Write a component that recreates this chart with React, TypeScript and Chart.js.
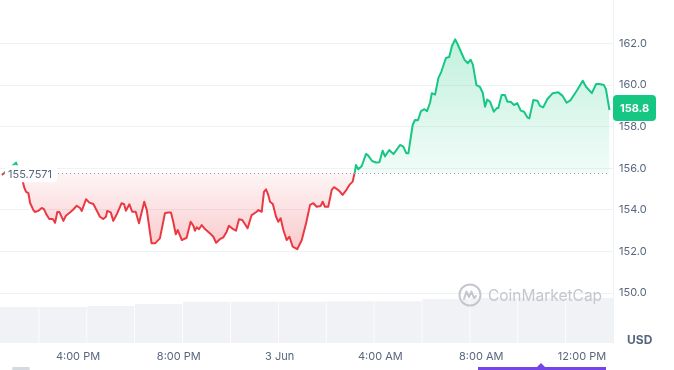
import React, { useEffect, useRef } from 'react';
import { Chart, registerables } from 'chart.js';

Chart.register(...registerables);

// Time in hours since 2 Jun 00:00 (24 = 3 Jun 00:00)
const hours = [
  12.98, 13.54, 13.78, 13.86, 13.94, 14.03, 14.10, 14.23, 14.29, 14.42,
  14.56, 14.65, 14.76, 14.86, 15.00, 15.09, 15.18, 15.26, 15.42, 15.52,
  15.68, 15.79, 15.95, 16.08, 16.15, 16.32, 16.45, 16.61, 16.87, 17.00,
  17.11, 17.16, 17.30, 17.40, 17.56, 17.73, 17.83, 17.90, 18.04, 18.15,
  18.29, 18.42, 18.63, 18.73, 18.92, 19.06, 19.25, 19.45, 19.56, 19.69,
  19.78, 19.88, 19.96, 20.12, 20.31, 20.47, 20.58, 20.64, 20.71, 20.80,
  20.91, 21.04, 21.24, 21.37, 21.48, 21.63, 21.77, 21.90, 21.99, 22.16,
  22.27, 22.39, 22.52, 22.73, 22.89, 23.09, 23.16, 23.29, 23.38, 23.46,
  23.55, 23.62, 23.73, 23.86, 23.95, 24.04, 24.15, 24.28, 24.39, 24.52,
  24.70, 24.88, 25.05, 25.21, 25.34, 25.47, 25.63, 25.71, 25.80, 25.93,
  26.07, 26.16, 26.29, 26.40, 26.50, 26.63, 26.77, 26.90, 26.99, 27.03,
  27.12, 27.26, 27.43, 27.51, 27.67, 27.83, 27.96, 28.09, 28.18, 28.35,
  28.52, 28.78, 28.91, 29.03, 29.11, 29.28, 29.37, 29.49, 29.61, 29.75,
  29.85, 29.97, 30.04, 30.17, 30.30, 30.42, 30.60, 30.73, 30.84, 30.97,
  31.07, 31.20, 31.34, 31.47, 31.58, 31.67, 31.81, 31.95, 32.06, 32.15,
  32.24, 32.35, 32.50, 32.63, 32.68, 32.81, 32.94, 33.04, 33.17, 33.30,
  33.43, 33.57, 33.70, 33.83, 33.91, 34.07, 34.23, 34.33, 34.46, 34.62,
  34.84, 35.06, 35.23, 35.39, 35.55, 35.81, 36.03, 36.16, 36.39, 36.56,
  36.69, 36.87, 36.95, 37.09,
];

const prices = [
  155.68, 156.27, 155.53, 155.10, 154.87, 154.81, 154.33, 153.99, 153.90, 153.95,
  154.09, 154.04, 153.75, 153.56, 153.56, 153.38, 153.90, 153.90, 153.47, 153.72,
  153.87, 153.99, 154.20, 154.09, 153.95, 154.51, 154.35, 154.28, 153.67, 153.56,
  153.67, 153.95, 153.88, 153.47, 153.84, 154.32, 154.27, 153.96, 154.27, 153.91,
  153.91, 153.36, 154.39, 153.99, 152.39, 152.39, 152.63, 153.84, 153.87, 153.87,
  153.43, 152.83, 153.03, 152.55, 152.66, 153.43, 153.23, 153.00, 153.16, 153.07,
  153.27, 153.08, 152.87, 152.71, 152.42, 152.59, 152.68, 152.95, 153.24, 153.07,
  153.00, 153.55, 153.51, 153.12, 153.75, 153.91, 153.99, 153.91, 154.87, 154.99,
  154.72, 154.39, 154.28, 153.67, 153.43, 153.60, 153.03, 152.55, 152.71, 152.23,
  152.11, 152.55, 153.36, 154.24, 154.32, 154.15, 154.19, 154.39, 154.15, 154.15,
  154.96, 155.09, 154.99, 154.87, 154.72, 154.92, 155.20, 155.36, 155.84, 156.16,
  155.95, 156.11, 156.69, 156.62, 156.35, 156.28, 156.29, 156.85, 156.57, 156.88,
  156.68, 157.12, 157.04, 156.72, 156.72, 158.08, 158.32, 158.31, 158.75, 158.84,
  158.75, 159.15, 159.61, 159.54, 160.33, 160.65, 161.30, 161.35, 161.88, 162.20,
  161.95, 161.59, 161.21, 161.05, 161.22, 160.98, 160.00, 159.91, 159.63, 158.96,
  159.30, 159.20, 158.72, 158.90, 158.90, 159.52, 159.52, 159.20, 159.20, 159.04,
  159.13, 158.77, 158.72, 158.45, 158.40, 159.28, 159.25, 159.00, 158.93, 159.32,
  159.61, 159.65, 159.48, 159.15, 159.28, 159.76, 160.21, 159.92, 159.61, 160.05,
  160.05, 160.00, 159.80, 158.80,
];

const volumeHours = [
  13.5, 15.4, 17.3, 19.2, 21.1, 23.0, 24.9, 26.8, 28.7, 30.6, 32.5, 34.4, 36.3,
];
const volumes = [
  10.5, 10.5, 10.8, 11.4, 12.0, 12.0, 12.0, 12.2, 12.2, 12.8, 13.1, 13.1, 13.1,
];

const BASE_PRICE = 155.7571;
const LAST_PRICE = 158.8;
const yTicks = [150, 152, 154, 156, 158, 160, 162];
const xTickHours = [16, 20, 24, 28, 32, 36];
const xTickLabels = ['4:00 PM', '8:00 PM', '3 Jun', '4:00 AM', '8:00 AM', '12:00 PM'];

const GREEN = '#16c784';
const RED = '#ea3943';
const LABEL = '#58667e';
const GRID = '#eff2f5';
const FONT = "Inter, 'Noto Sans', sans-serif";

function lineGradient(chart: any) {
  const { ctx, chartArea, scales } = chart;
  if (!chartArea || !scales.y) return GREEN;
  const yb = scales.y.getPixelForValue(BASE_PRICE);
  const t = Math.max(0, Math.min(1, (yb - chartArea.top) / (chartArea.bottom - chartArea.top)));
  const g = ctx.createLinearGradient(0, chartArea.top, 0, chartArea.bottom);
  g.addColorStop(0, GREEN);
  g.addColorStop(t, GREEN);
  g.addColorStop(t, RED);
  g.addColorStop(1, RED);
  return g;
}

function fillGradient(chart: any) {
  const { ctx, chartArea, scales } = chart;
  if (!chartArea || !scales.y) return 'rgba(22,199,132,0.15)';
  const yb = scales.y.getPixelForValue(BASE_PRICE);
  const h = chartArea.bottom - chartArea.top;
  const t = Math.max(0, Math.min(1, (yb - chartArea.top) / h));
  const g = ctx.createLinearGradient(0, chartArea.top, 0, chartArea.bottom);
  g.addColorStop(0, 'rgba(22,199,132,0.32)');
  g.addColorStop(t, 'rgba(22,199,132,0.06)');
  g.addColorStop(t, 'rgba(234,57,67,0.05)');
  g.addColorStop(Math.min(1, t + 80 / h), 'rgba(234,57,67,0.28)');
  g.addColorStop(1, 'rgba(234,57,67,0.3)');
  return g;
}

function roundRect(ctx: CanvasRenderingContext2D, x: number, y: number, w: number, h: number, r: number) {
  ctx.beginPath();
  ctx.moveTo(x + r, y);
  ctx.lineTo(x + w - r, y);
  ctx.quadraticCurveTo(x + w, y, x + w, y + r);
  ctx.lineTo(x + w, y + h - r);
  ctx.quadraticCurveTo(x + w, y + h, x + w - r, y + h);
  ctx.lineTo(x + r, y + h);
  ctx.quadraticCurveTo(x, y + h, x, y + h - r);
  ctx.lineTo(x, y + r);
  ctx.quadraticCurveTo(x, y, x + r, y);
  ctx.closePath();
}

const overlayPlugin = {
  id: 'overlay',
  afterDatasetsDraw(chart: any) {
    const { ctx, chartArea, scales } = chart;
    const yb = scales.y.getPixelForValue(BASE_PRICE);
    const xEnd = scales.x.getPixelForValue(hours[hours.length - 1]);
    ctx.save();
    ctx.strokeStyle = '#9aa3b5';
    ctx.lineWidth = 1;
    ctx.setLineDash([1, 3]);
    ctx.beginPath();
    ctx.moveTo(chartArea.left + 6, Math.round(yb) + 0.5);
    ctx.lineTo(xEnd, Math.round(yb) + 0.5);
    ctx.stroke();
    ctx.setLineDash([]);
    // base price label
    const text = String(BASE_PRICE);
    ctx.font = `11px ${FONT}`;
    const tw = ctx.measureText(text).width;
    const bx = chartArea.left + 5;
    ctx.fillStyle = '#ffffff';
    roundRect(ctx, bx, yb - 8, tw + 8, 17, 3);
    ctx.fill();
    ctx.fillStyle = LABEL;
    ctx.textBaseline = 'middle';
    ctx.textAlign = 'left';
    ctx.fillText(text, bx + 3, yb + 1.5);
    ctx.restore();
  },
  afterDraw(chart: any) {
    const { ctx, chartArea, scales } = chart;
    const yp = scales.y.getPixelForValue(LAST_PRICE) - 2;
    ctx.save();
    ctx.fillStyle = GREEN;
    roundRect(ctx, chartArea.right, yp - 13, 43, 26, 4);
    ctx.fill();
    ctx.fillStyle = '#ffffff';
    ctx.font = `bold 11px ${FONT}`;
    ctx.textAlign = 'center';
    ctx.textBaseline = 'middle';
    ctx.fillText(LAST_PRICE.toFixed(1), chartArea.right + 21.5, yp + 0.5);
    ctx.fillStyle = LABEL;
    ctx.font = `bold 12px ${FONT}`;
    ctx.textAlign = 'left';
    ctx.fillText('USD', chartArea.right + 14, chartArea.bottom - 3);
    ctx.restore();
  },
};

export default function App() {
  const canvasRef = useRef<HTMLCanvasElement | null>(null);

  useEffect(() => {
    const canvas = canvasRef.current;
    if (!canvas) return;
    Chart.defaults.font.family = FONT;
    const chart = new Chart(canvas, {
      type: 'line',
      data: {
        datasets: [
          {
            type: 'line',
            label: 'Price',
            data: hours.map((h, i) => ({ x: h, y: prices[i] })),
            yAxisID: 'y',
            borderColor: (c: any) => lineGradient(c.chart),
            backgroundColor: (c: any) => fillGradient(c.chart),
            fill: { target: { value: BASE_PRICE } },
            borderWidth: 2,
            pointRadius: 0,
            tension: 0,
            borderJoinStyle: 'round',
            order: 1,
          } as any,
          {
            type: 'bar',
            label: 'Volume',
            data: volumeHours.map((h, i) => ({ x: h, y: volumes[i] })),
            yAxisID: 'yv',
            backgroundColor: '#f0f2f5',
            barPercentage: 0.985,
            categoryPercentage: 1,
            order: 2,
          } as any,
        ],
      },
      options: {
        animation: false,
        responsive: false,
        maintainAspectRatio: false,
        layout: { padding: 0 },
        plugins: { legend: { display: false }, tooltip: { enabled: false } },
        scales: {
          x: {
            type: 'linear',
            min: 12.905,
            max: 37.23,
            offset: false,
            grid: { display: false, drawTicks: false, offset: false },
            border: { display: false },
            afterBuildTicks: (scale: any) => {
              scale.ticks = xTickHours.map((v) => ({ value: v }));
            },
            afterFit: (scale: any) => {
              scale.height = 27;
              scale.paddingLeft = 0;
              scale.paddingRight = 0;
            },
            ticks: {
              autoSkip: false,
              maxRotation: 0,
              padding: 7,
              color: LABEL,
              font: { size: 11, family: FONT },
              callback: (v: any) => {
                const i = xTickHours.indexOf(Number(v));
                return i >= 0 ? xTickLabels[i] : '';
              },
            },
          },
          y: {
            type: 'linear',
            position: 'right',
            min: 147.6,
            max: 164.09,
            grid: { color: GRID, drawTicks: false },
            border: { display: true, color: GRID },
            afterBuildTicks: (scale: any) => {
              scale.ticks = yTicks.map((v) => ({ value: v }));
            },
            afterFit: (scale: any) => {
              scale.width = 61;
              scale.paddingTop = 0;
              scale.paddingBottom = 0;
            },
            ticks: {
              padding: 6,
              color: LABEL,
              font: { size: 11, family: FONT },
              callback: (v: any) => Number(v).toFixed(1),
            },
          },
          yv: {
            type: 'linear',
            display: false,
            min: 0,
            max: 100,
          },
        },
      },
      plugins: [overlayPlugin],
    } as any);
    return () => chart.destroy();
  }, []);

  return (
    <div style={{ position: 'absolute', left: 0, top: 0, width: 674, height: 370, background: '#fff', overflow: 'hidden' }}>
      <canvas ref={canvasRef} width={674} height={370} style={{ display: 'block' }} />
      <div
        style={{
          position: 'absolute', left: 458, top: 283, height: 24, display: 'flex', alignItems: 'center',
          color: '#c3c7ce', fontFamily: FONT, fontSize: 15.5, pointerEvents: 'none',
        }}
      >
        <svg width="24" height="24" viewBox="0 0 24 24" style={{ marginRight: 6 }}>
          <circle cx="12" cy="12" r="10.5" fill="none" stroke="#c3c7ce" strokeWidth="2" />
          <path d="M6 16 L8.5 8.5 L11 14 L13.5 8.5 L16 15 L18 13" fill="none" stroke="#c3c7ce" strokeWidth="2" strokeLinejoin="round" strokeLinecap="round" />
        </svg>
        <span>CoinMarketCap</span>
      </div>
      <div style={{ position: 'absolute', left: 12, top: 367, width: 18, height: 3, background: '#d5d9e0', borderRadius: 2 }} />
      <div style={{ position: 'absolute', left: 478, top: 367, width: 128, height: 3, background: '#7645e8' }} />
      <div style={{ position: 'absolute', left: 537, top: 363, width: 0, height: 0, borderLeft: '4px solid transparent', borderRight: '4px solid transparent', borderBottom: '4px solid #7645e8' }} />
    </div>
  );
}
